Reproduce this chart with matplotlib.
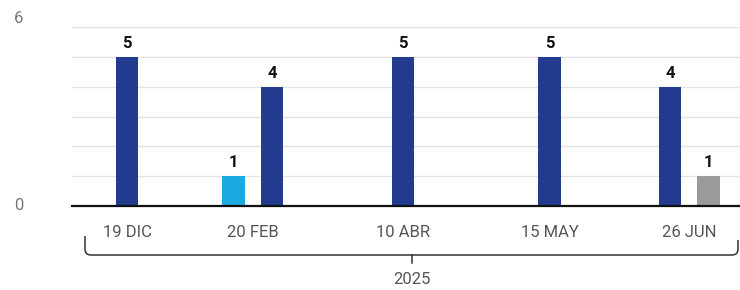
import matplotlib
matplotlib.use("Agg")
import matplotlib.pyplot as plt
import matplotlib.transforms as mtransforms
from matplotlib.path import Path
from matplotlib.patches import PathPatch

# --- data ---
dates = ["19 DIC", "20 FEB", "10 ABR", "15 MAY", "26 JUN"]
serie_celeste = [0, 1, 0, 0, 0]
serie_azul = [5, 4, 5, 5, 4]
serie_gris = [0, 0, 0, 0, 1]
year_label = "2025"

series = [serie_celeste, serie_azul, serie_gris]
colors = ["#1aa9e0", "#233b8e", "#9b9b9b"]

# the dates are not evenly spaced in the original layout
slot_x = [0, 0.885, 1.94, 2.97, 3.95]

plt.rcParams["font.family"] = ["Roboto", "DejaVu Sans"]

fig = plt.figure(figsize=(7.4, 2.9), dpi=100)
ax = fig.add_axes([72 / 740, (290 - 206) / 290, 668 / 740, (206 - 27) / 290])

bar_w = 0.158
step = 0.27
for i, d in enumerate(dates):
    # only the series with a value take a slot, centred on the date
    present = [k for k in range(len(series)) if series[k][i] > 0]
    n = len(present)
    for j, k in enumerate(present):
        x = slot_x[i] + (j - (n - 1) / 2) * step
        v = series[k][i]
        ax.bar(x, v, width=bar_w, color=colors[k], zorder=3)
        ax.text(x, v + 0.2, str(v), ha="center", va="bottom",
                fontsize=12, fontweight="bold", color="#111111")

x0, x1 = -0.3865, 4.308
ax.set_xlim(x0, x1)
ax.set_ylim(0, 6)
for s in ["top", "right", "left"]:
    ax.spines[s].set_visible(False)
ax.spines["bottom"].set_color("#111111")
ax.spines["bottom"].set_linewidth(1.6)
ax.spines["bottom"].set_zorder(4)

ax.set_yticks(range(0, 7))
ax.yaxis.grid(True, color="#e3e3e3", linewidth=1.0, zorder=0)
ax.tick_params(axis="y", length=0, labelleft=False)
ax.set_xticks(slot_x)
ax.set_xticklabels(dates, fontsize=12, color="#555555")
ax.tick_params(axis="x", length=0, pad=14)

# y labels only at the ends
ax.text(x0 - 58 / 142.3, 0, "0", ha="left", va="center", fontsize=12, color="#777777")
ax.text(x0 - 58 / 142.3, 6.3, "6", ha="left", va="center", fontsize=12, color="#777777")

# bracket under the dates, in pixel coordinates
px = mtransforms.Affine2D().scale(1 / 740, -1 / 290).translate(0, 1) + fig.transFigure
r = 6
verts = [(85, 236), (85, 255 - r), (85, 255), (85 + r, 255),
         (738 - r, 255), (738, 255), (738, 255 - r), (738, 240)]
codes = [Path.MOVETO, Path.LINETO, Path.CURVE3, Path.CURVE3,
         Path.LINETO, Path.CURVE3, Path.CURVE3, Path.LINETO]
fig.patches.append(PathPatch(Path(verts, codes), transform=px, fill=False,
                             edgecolor="#333333", linewidth=1.1))
fig.lines.append(plt.Line2D([412, 412], [255, 263], transform=px,
                            color="#333333", linewidth=1.1))
fig.text(412 / 740, 1 - 280 / 290, year_label, ha="center", va="center",
         fontsize=12, color="#555555")

fig.savefig("out.png", dpi=100)
